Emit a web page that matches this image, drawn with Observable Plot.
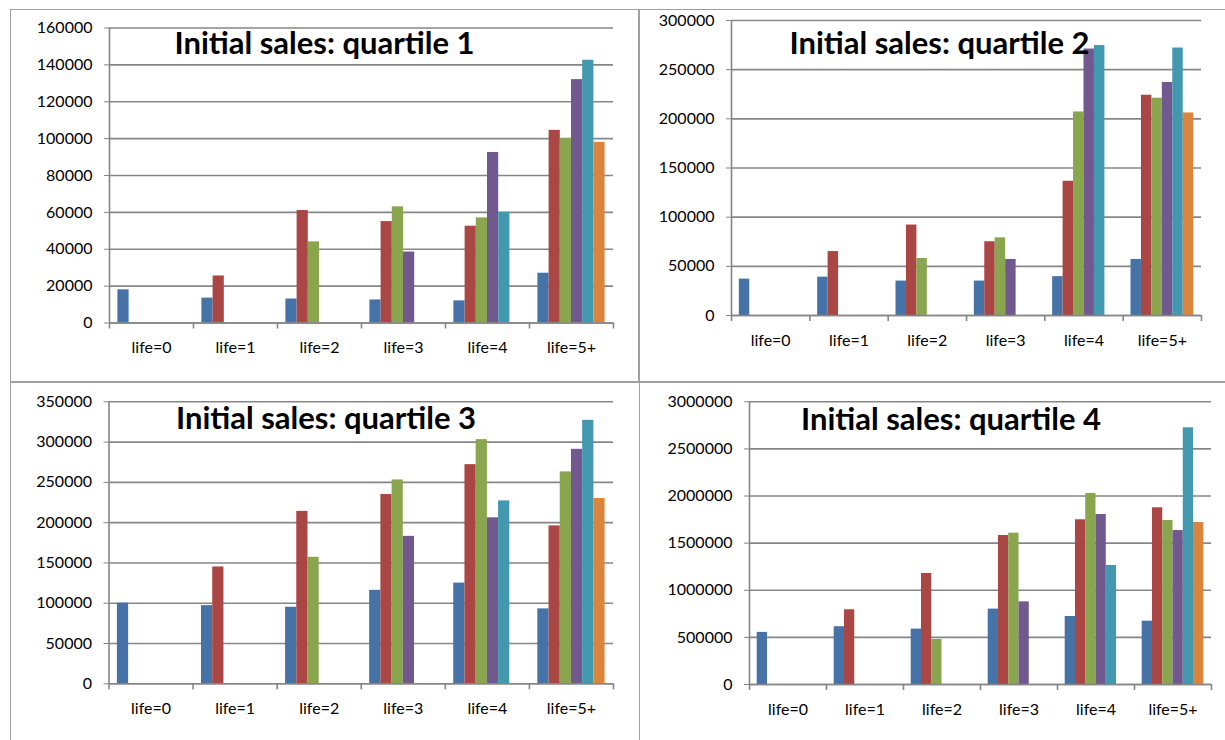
<!DOCTYPE html>
<html>
<head>
<meta charset="utf-8">
<script src="https://cdn.jsdelivr.net/npm/d3@7"></script>
<script src="https://cdn.jsdelivr.net/npm/@observablehq/plot@0.6"></script>
<style>
  html, body { margin: 0; padding: 0; background: #fff; }
  #page { position: relative; width: 1225px; height: 740px; overflow: hidden; font-family: Lato, "Open Sans", sans-serif; }
  .panel { position: absolute; }
  .line { position: absolute; background: #a0a0a0; }
</style>
</head>
<body>
<div id="page"></div>
<script>
// ---- Data ----
const lifeLabels = ["life=0", "life=1", "life=2", "life=3", "life=4", "life=5+"];
const seriesNames = ["year 0", "year 1", "year 2", "year 3", "year 4", "year 5"];
const seriesColors = ["#4572A7", "#AA4643", "#89A54E", "#71588F", "#4198AF", "#DB843D"];

const q1Values = [
  [18000],
  [13500, 25500],
  [13000, 61000, 44000],
  [12500, 55000, 63000, 38500],
  [12000, 52500, 57000, 92500, 60000],
  [27000, 104500, 100000, 132000, 142500, 98000]
];
const q2Values = [
  [37000],
  [39000, 65000],
  [35000, 92000, 58000],
  [35000, 75000, 79000, 57000],
  [39500, 136500, 207000, 271000, 274500],
  [57000, 224000, 221000, 237000, 272000, 206000]
];
const q3Values = [
  [100000],
  [97000, 145000],
  [95000, 214000, 157000],
  [116000, 235000, 253000, 183000],
  [125000, 272000, 303000, 206000, 227000],
  [93000, 196000, 263000, 291000, 327000, 230000]
];
const q4Values = [
  [553000],
  [613000, 793000],
  [588000, 1178000, 478000],
  [800000, 1581000, 1606000, 877000],
  [722000, 1748000, 2027000, 1804000, 1263000],
  [672000, 1875000, 1741000, 1634000, 2724000, 1719000]
];

const q1Ticks = [0, 20000, 40000, 60000, 80000, 100000, 120000, 140000, 160000];
const q2Ticks = [0, 50000, 100000, 150000, 200000, 250000, 300000];
const q3Ticks = [0, 50000, 100000, 150000, 200000, 250000, 300000, 350000];
const q4Ticks = [0, 500000, 1000000, 1500000, 2000000, 2500000, 3000000];

const titles = ["Initial sales: quartile 1", "Initial sales: quartile 2", "Initial sales: quartile 3", "Initial sales: quartile 4"];

// ---- Layout (positions/sizes only) ----
const layout = [
  {left: 10,  top: 10,  w: 629, h: 372, mL: 99,  mR: 26, mT: 17.5, mB: 59.5, tdx: 65, tdy: 25.5},
  {left: 640, top: 10,  w: 585, h: 372, mL: 91,  mR: 24, mT: 10,   mB: 67,   tdx: 58, tdy: 33},
  {left: 10,  top: 383, w: 629, h: 357, mL: 98.5,mR: 26, mT: 18.3, mB: 56.7, tdx: 67, tdy: 26.7},
  {left: 640, top: 383, w: 585, h: 357, mL: 109, mR: 14, mT: 18.3, mB: 56,   tdx: 51.5, tdy: 28.4}
];

const panelsData = [
  {values: q1Values, ticks: q1Ticks},
  {values: q2Values, ticks: q2Ticks},
  {values: q3Values, ticks: q3Ticks},
  {values: q4Values, ticks: q4Ticks}
];

const page = document.getElementById("page");
const grey = "#868686";
const groupWidth = 0.8;
const gap = (1 - groupWidth) / 2;
const barWidth = groupWidth / seriesNames.length;

panelsData.forEach((p, k) => {
  const L = layout[k];
  const rows = p.values.flatMap((vals, i) =>
    vals.map((v, j) => ({life: lifeLabels[i], i, series: seriesNames[j], j, value: v})));
  const yMax = p.ticks[p.ticks.length - 1];
  const chart = Plot.plot({
    width: L.w,
    height: L.h,
    marginLeft: L.mL,
    marginRight: L.mR,
    marginTop: L.mT,
    marginBottom: L.mB,
    style: {fontFamily: "Lato, 'Open Sans', sans-serif", fontSize: "16px", color: "#000", background: "transparent", overflow: "visible"},
    x: {type: "linear", domain: [0, lifeLabels.length], axis: null},
    y: {domain: [0, yMax], axis: null},
    color: {domain: seriesNames, range: seriesColors},
    marks: [
      Plot.gridY(p.ticks, {stroke: grey, strokeOpacity: 1, strokeWidth: 1.6}),
      Plot.rectY(rows, {
        x1: d => d.i + gap + d.j * barWidth,
        x2: d => d.i + gap + (d.j + 1) * barWidth,
        y1: 0,
        y2: "value",
        fill: "series"
      }),
      Plot.ruleY([0], {stroke: grey, strokeWidth: 1.6}),
      Plot.ruleX([0], {stroke: grey, strokeWidth: 1.6}),
      Plot.axisY({ticks: p.ticks, tickSize: 5, tickPadding: 12, tickFormat: d3.format("d"), stroke: grey, fill: "#000", label: null}),
      Plot.axisX({ticks: d3.range(lifeLabels.length + 1), tickSize: 6, tickFormat: () => "", stroke: grey, strokeWidth: 1.6, label: null}),
      Plot.axisX({ticks: lifeLabels.map((_, i) => i + 0.5), tickSize: 0, tickPadding: 19, tickFormat: t => lifeLabels[Math.floor(t)], fill: "#000", label: null}),
      Plot.text([titles[k]], {
        frameAnchor: "top-left", textAnchor: "start", lineAnchor: "bottom",
        dx: L.tdx, dy: L.tdy, fontSize: 31, fontWeight: "bold", fill: "#000"
      })
    ]
  });
  const div = document.createElement("div");
  div.className = "panel";
  div.style.left = L.left + "px";
  div.style.top = L.top + "px";
  div.appendChild(chart);
  page.appendChild(div);
});

// Panel border lines
const lines = [
  {left: 10, top: 9, width: 1215, height: 1},
  {left: 10, top: 9, width: 1, height: 731},
  {left: 638, top: 9, width: 2, height: 373},
  {left: 639, top: 382, width: 1, height: 358},
  {left: 10, top: 381, width: 1215, height: 2}
];
lines.forEach(l => {
  const d = document.createElement("div");
  d.className = "line";
  Object.assign(d.style, {left: l.left + "px", top: l.top + "px", width: l.width + "px", height: l.height + "px"});
  page.appendChild(d);
});
</script>
</body>
</html>
